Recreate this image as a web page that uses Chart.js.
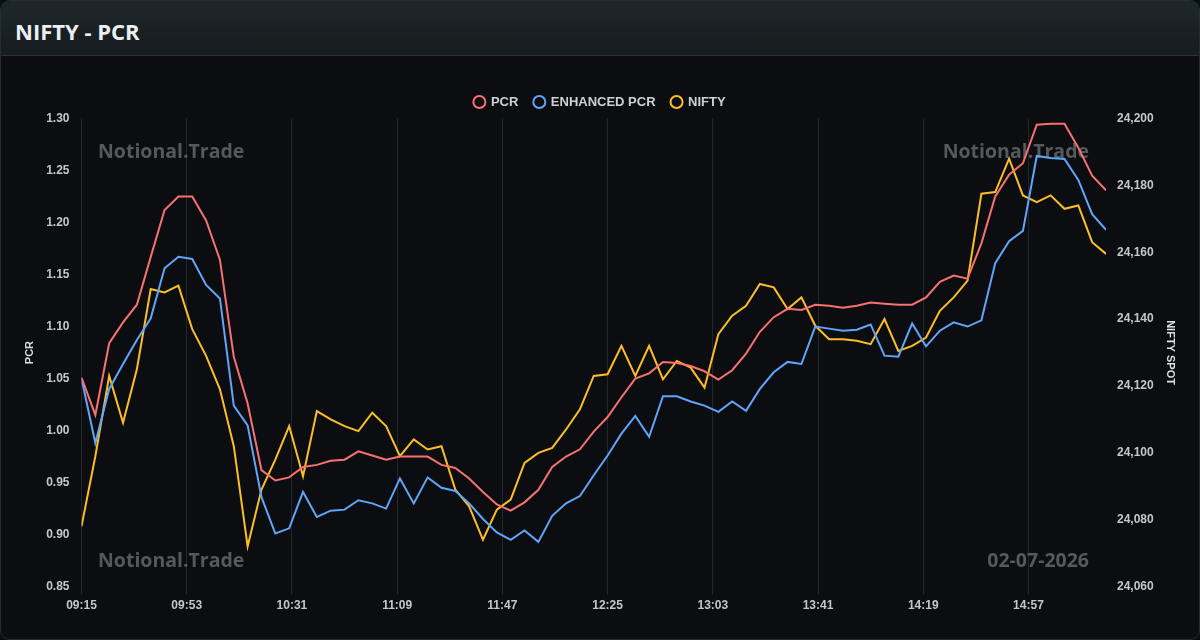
<!DOCTYPE html>
<html>
<head>
<meta charset="utf-8">
<script src="https://cdn.jsdelivr.net/npm/chart.js@4.4.1/dist/chart.umd.min.js"></script>
<style>
  html, body { margin: 0; padding: 0; background: #0b0c0f; }
  #card { position: absolute; left: 0; top: 0; width: 1198px; height: 638px; border: 1px solid #262d30; border-radius: 10px; overflow: hidden; background: #0c0d10; }
  #head { position: absolute; left: 0; top: 0; width: 100%; height: 54px; background: linear-gradient(180deg, #1d2729 0%, #161c1f 100%); border-bottom: 1px solid #2a3336; }
  #title { position: absolute; left: 14px; top: 18.5px; font: 700 22px/22px "Open Sans", "Noto Sans", sans-serif; color: #eceff1; white-space: nowrap; }
  #wrap { position: absolute; left: 18px; top: 55px; width: 1162px; height: 565px; }
</style>
</head>
<body>
<div id="card">
  <div id="head"><div id="title">NIFTY - PCR</div></div>
  <div id="wrap"><canvas id="c"></canvas></div>
</div>
<script>
const times = ['09:15','09:20','09:25','09:30','09:35','09:40','09:45','09:50','09:55','10:00',
'10:05','10:10','10:15','10:20','10:25','10:30','10:35','10:40','10:45','10:50',
'10:55','11:00','11:05','11:10','11:15','11:20','11:25','11:30','11:35','11:40',
'11:45','11:50','11:55','12:00','12:05','12:10','12:15','12:20','12:25','12:30',
'12:35','12:40','12:45','12:50','12:55','13:00','13:05','13:10','13:15','13:20',
'13:25','13:30','13:35','13:40','13:45','13:50','13:55','14:00','14:05','14:10',
'14:15','14:20','14:25','14:30','14:35','14:40','14:45','14:50','14:55','15:00',
'15:05','15:10','15:15','15:20','15:25'];

const pcr = [1.051,1.015,1.084,1.104,1.121,1.167,1.212,1.225,1.225,1.202,
1.164,1.071,1.026,0.962,0.952,0.955,0.965,0.967,0.971,0.972,
0.980,0.976,0.972,0.975,0.975,0.975,0.967,0.964,0.954,0.941,
0.929,0.923,0.931,0.943,0.965,0.975,0.982,0.999,1.013,1.032,
1.050,1.055,1.066,1.065,1.062,1.057,1.049,1.058,1.074,1.095,
1.109,1.117,1.116,1.121,1.120,1.118,1.120,1.123,1.122,1.121,
1.121,1.128,1.143,1.149,1.146,1.180,1.225,1.246,1.257,1.294,
1.295,1.295,1.272,1.245,1.231];

const enhancedPcr = [1.050,0.988,1.040,1.064,1.087,1.108,1.156,1.167,1.165,1.140,
1.127,1.024,1.005,0.936,0.901,0.906,0.941,0.917,0.923,0.924,
0.933,0.930,0.925,0.954,0.930,0.955,0.945,0.942,0.930,0.915,
0.902,0.895,0.904,0.893,0.918,0.930,0.937,0.957,0.976,0.997,
1.014,0.994,1.033,1.033,1.028,1.024,1.018,1.028,1.019,1.040,
1.056,1.066,1.064,1.100,1.098,1.096,1.097,1.102,1.072,1.071,
1.103,1.081,1.096,1.104,1.100,1.106,1.161,1.182,1.192,1.264,
1.262,1.261,1.241,1.208,1.193];

const nifty = [24078,24099,24123,24109,24125,24149,24148,24150,24137,24129,
24119,24102,24072,24089,24098,24108,24093,24112.5,24110,24108,
24106.5,24112,24108,24099,24104,24101,24102,24089,24084,24074,
24083,24086,24097,24100,24101.5,24107,24113,24123,24123.5,24132,
24123,24132,24122,24127.5,24125.5,24119.5,24135.5,24141,24144,24150.5,
24149.5,24143,24146.5,24138,24134,24134,24133.5,24132.5,24140,24130.5,
24132,24134.5,24142.5,24146.5,24151.5,24177.5,24178,24188,24177,24175,
24177,24173,24174,24163,24159.5];

const xTickLabels = ['09:15','09:53','10:31','11:09','11:47','12:25','13:03','13:41','14:19','14:57'];
const pcrTicks = [0.85,0.90,0.95,1.00,1.05,1.10,1.15,1.20,1.25,1.30];
const niftyTicks = [24060,24080,24100,24120,24140,24160,24180,24200];

const startMin = 9*60 + 15;
const toMin = t => { const p = t.split(':').map(Number); return p[0]*60 + p[1] - startMin; };
const fmtMin = v => { const m = Math.round(v) + startMin; const h = Math.floor(m/60), mm = m % 60; return String(h).padStart(2,'0') + ':' + String(mm).padStart(2,'0'); };
const pts = arr => arr.map((v, i) => ({ x: toMin(times[i]), y: v }));

Chart.defaults.font.family = '"Liberation Sans", Arial, Helvetica, sans-serif';

const legendFix = {
  id: 'legendFix',
  beforeLayout(chart) {
    const lg = chart.legend;
    if (lg && !lg._patched) {
      const f = lg.fit;
      lg.fit = function () { f.call(this); this.height = 39; };
      lg._patched = true;
    }
  }
};

const watermark = {
  id: 'watermark',
  beforeDatasetsDraw(chart) {
    const { ctx, chartArea: ca } = chart;
    ctx.save();
    ctx.font = 'bold 19.5px "Open Sans", "Noto Sans", sans-serif';
    ctx.fillStyle = '#55585c';
    ctx.textBaseline = 'alphabetic';
    ctx.textAlign = 'left';
    ctx.fillText('Notional.Trade', ca.left + 16.5, ca.top + 39);
    ctx.fillText('Notional.Trade', ca.left + 16.5, ca.bottom - 20);
    ctx.textAlign = 'right';
    ctx.fillText('Notional.Trade', ca.right - 17, ca.top + 39);
    ctx.fillText('02-07-2026', ca.right - 17, ca.bottom - 20);
    ctx.restore();
  }
};

const tickColor = '#c3c7cc';

new Chart(document.getElementById('c'), {
  type: 'line',
  data: {
    datasets: [
      { label: 'PCR', data: pts(pcr), borderColor: '#f87171', backgroundColor: 'transparent', borderWidth: 2, pointRadius: 0, pointHoverRadius: 0, tension: 0, yAxisID: 'y' },
      { label: 'ENHANCED PCR', data: pts(enhancedPcr), borderColor: '#60a5fa', backgroundColor: 'transparent', borderWidth: 2, pointRadius: 0, pointHoverRadius: 0, tension: 0, yAxisID: 'y' },
      { label: 'NIFTY', data: pts(nifty), borderColor: '#fbbf24', backgroundColor: 'transparent', borderWidth: 2, pointRadius: 0, pointHoverRadius: 0, tension: 0, yAxisID: 'y1' }
    ]
  },
  options: {
    responsive: true,
    maintainAspectRatio: false,
    animation: false,
    layout: { padding: { top: 23.5, bottom: 4, left: 0, right: 0 } },
    plugins: {
      legend: {
        position: 'top',
        labels: { usePointStyle: true, pointStyle: 'circle', boxWidth: 10, boxHeight: 8.5, padding: 16, color: '#cdd1d6', font: { size: 13, weight: 'bold' } }
      },
      tooltip: { enabled: false }
    },
    scales: {
      x: {
        type: 'linear',
        min: toMin(times[0]),
        max: toMin(times[times.length - 1]),
        afterBuildTicks: s => { s.ticks = xTickLabels.map(t => ({ value: toMin(t) })); },
        ticks: { autoSkip: false, maxRotation: 0, padding: 4, color: tickColor, font: { size: 12, weight: 'bold' }, callback: v => fmtMin(v) },
        grid: { color: '#23262a', lineWidth: 1, tickLength: 8 },
        border: { display: false }
      },
      y: {
        position: 'left',
        min: pcrTicks[0],
        max: pcrTicks[pcrTicks.length - 1],
        afterBuildTicks: s => { s.ticks = pcrTicks.map(v => ({ value: v })); },
        afterFit: s => { s.width = 62.5; },
        ticks: { padding: 12, color: tickColor, font: { size: 12, weight: 'bold' }, callback: v => Number(v).toFixed(2) },
        grid: { display: false, drawTicks: false, tickLength: 0 },
        border: { display: false },
        title: { display: true, text: 'PCR', color: '#dcdfe3', font: { size: 11, weight: 'bold' } }
      },
      y1: {
        position: 'right',
        min: niftyTicks[0],
        max: niftyTicks[niftyTicks.length - 1],
        afterBuildTicks: s => { s.ticks = niftyTicks.map(v => ({ value: v })); },
        afterFit: s => { s.width = 75; },
        ticks: { padding: 11, color: tickColor, font: { size: 12, weight: 'bold' }, callback: v => Number(v).toLocaleString('en-US') },
        grid: { display: false, drawTicks: false, tickLength: 0 },
        border: { display: false },
        title: { display: true, text: 'NIFTY SPOT', color: '#dcdfe3', font: { size: 11, weight: 'bold' } }
      }
    }
  },
  plugins: [legendFix, watermark]
});
</script>
</body>
</html>
